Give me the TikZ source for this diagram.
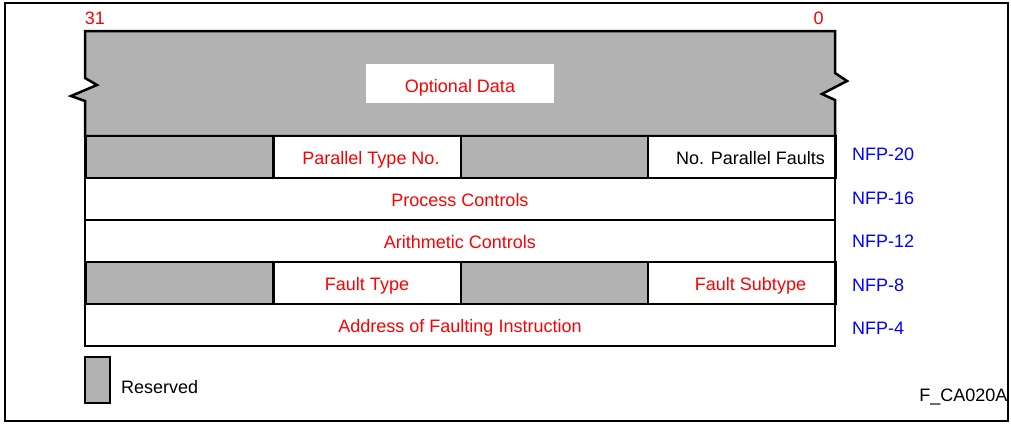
\documentclass[tikz,border=0pt]{standalone}
\usepackage{fontspec}
\setmainfont{Liberation Sans}
\usetikzlibrary{positioning}

\begin{document}
\begin{tikzpicture}[
            x=1pt, y=-1pt,
            txt/.style={font=\fontsize{18}{21}\selectfont, inner sep=0pt, text height=14pt, text depth=0pt},
            cell/.style={txt, draw, line width=2.5pt, fill=white, minimum width=187.5pt, minimum height=42pt, text=red},
            rsv/.style={cell, fill=black!30},
            wide/.style={cell, minimum width=750pt},
            off/.style={txt, text=blue, anchor=west},
            bit/.style={txt, text=red}
        ]
        \useasboundingbox (0,0) rectangle (1011,423);
        \draw[line width=2pt] (5,3) rectangle (1008,421);

        % Optional data with break marks
        \draw[line width=2.5pt, fill=black!30]
            (85,31) -- (835,31) -- (835,73) -- (847,81) -- (822,94) -- (835,100)
            -- (835,136) -- (85,136) -- (85,101) -- (71,96) -- (97,85) -- (85,78) -- cycle;
        \node[txt, text height=17.6pt, fill=white, text=red, minimum width=188pt, minimum height=39pt] (opt) at (460,83.5) {Optional Data};

        % Bit numbers
        \node[bit] (b31) at (95,17.5) {31};
        \node[bit] (b0)  at (818.5,17.5) {0};

        % NFP-20
        \node[rsv]  (r20a) at (179,157)   {};
        \node[cell] (r20b) at (367,157)   {\hspace{8pt}Parallel Type No.};
        \node[rsv]  (r20c) at (554.5,157) {};
        \node[cell, text=black] (r20d) at (741.5,157) {\hspace{18pt}No. Parallel Faults};

        % NFP-16, NFP-12
        \node[wide] (r16) at (460,199) {Process Controls};
        \node[wide] (r12) at (460,241) {Arithmetic Controls};

        % NFP-8
        \node[rsv]  (r8a) at (179,283)   {};
        \node[cell] (r8b) at (367,283)   {Fault Type};
        \node[rsv]  (r8c) at (554.5,283) {};
        \node[cell] (r8d) at (741.5,283) {\hspace{18pt}Fault Subtype};

        % NFP-4
        \node[wide] (r4) at (460,325) {Address of Faulting Instruction};

        % Offsets
        \node[off] (o20) at (852,153)   {NFP-20};
        \node[off] (o16) at (852,197.5) {NFP-16};
        \node[off] (o12) at (852,240.5) {NFP-12};
        \node[off] (o8)  at (852,284)   {NFP-8};
        \node[off] (o4)  at (852,327)   {NFP-4};

        % Legend
        \node[rsv, line width=2pt, minimum width=25pt, minimum height=46pt] (leg) at (97.5,380) {};
        \node[txt, anchor=west] (legtxt) at (121,386.2) {Reserved};
        \node[txt, anchor=east] (fig) at (1007.5,394.5) {F\_CA020A};
    \end{tikzpicture}
\end{document}
